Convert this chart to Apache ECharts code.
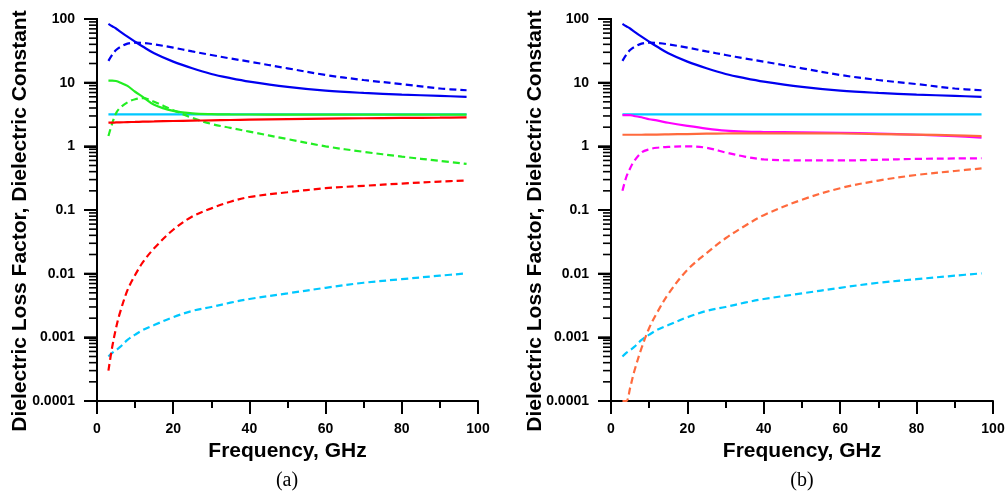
<!DOCTYPE html>
<html>
<head>
<meta charset="utf-8">
<script src="https://cdn.jsdelivr.net/npm/echarts@6/dist/echarts.min.js"></script>
<style>
  html, body { margin: 0; padding: 0; background: #fff; }
  #chart { width: 1008px; height: 491px; }
</style>
</head>
<body>
<div id="chart"></div>
<script>
// Sampling frequencies (GHz) shared by every curve
const freq = [3, 4, 5, 6, 8, 10, 12, 15, 20, 25, 30, 35, 40, 50, 60, 70, 80, 90, 97];

// Water: dielectric constant and loss factor (both panels)
const waterConst = [84, 77, 71, 64, 52.7, 44, 37, 29, 21.4, 16.8, 13.7, 11.8, 10.4, 8.6, 7.5, 6.9, 6.5, 6.2, 6.0];
const waterLoss  = [22, 27.5, 32.6, 36, 41, 42.5, 42, 40, 35.5, 31, 27.2, 24, 21.4, 16.8, 13.2, 11, 9.5, 8.1, 7.6];

// Low-loss reference material (both panels)
const lowConst = [3.18, 3.18, 3.18, 3.18, 3.18, 3.18, 3.18, 3.18, 3.18, 3.18, 3.18, 3.18, 3.18, 3.18, 3.18, 3.18, 3.18, 3.18, 3.18];
const lowLoss  = [0.0005, 0.00057, 0.00063, 0.0007, 0.00091, 0.0011, 0.0013, 0.00156, 0.00207, 0.0026, 0.003, 0.0035, 0.004, 0.0049, 0.006, 0.0072, 0.0082, 0.0093, 0.0101];

// Panel (a): green and red materials
const greenConst = [10.8, 10.8, 10.6, 10.1, 8.9, 7.2, 6.0, 4.5, 3.6, 3.3, 3.2, 3.17, 3.16, 3.15, 3.15, 3.15, 3.15, 3.15, 3.15];
const greenLoss  = [1.45, 2.3, 3.3, 4.0, 4.9, 5.5, 5.7, 5.0, 3.7, 2.8, 2.25, 1.95, 1.7, 1.3, 1.0, 0.82, 0.69, 0.59, 0.53];
const redConst   = [2.35, 2.36, 2.37, 2.38, 2.40, 2.42, 2.44, 2.46, 2.50, 2.53, 2.56, 2.59, 2.62, 2.67, 2.72, 2.76, 2.79, 2.82, 2.85];
const redLoss    = [0.0003, 0.00071, 0.0014, 0.0024, 0.0055, 0.0095, 0.015, 0.025, 0.049, 0.079, 0.106, 0.135, 0.16, 0.19, 0.22, 0.24, 0.26, 0.28, 0.29];

// Panel (b): magenta and orange materials
const magentaConst = [3.1, 3.1, 3.1, 3.0, 2.86, 2.66, 2.55, 2.35, 2.1, 1.9, 1.76, 1.7, 1.68, 1.66, 1.63, 1.59, 1.52, 1.44, 1.37];
const magentaLoss  = [0.2, 0.33, 0.45, 0.58, 0.8, 0.9, 0.95, 0.98, 1.0, 0.95, 0.8, 0.69, 0.625, 0.6, 0.6, 0.615, 0.635, 0.645, 0.65];
const orangeConst  = [1.52, 1.52, 1.52, 1.52, 1.52, 1.53, 1.53, 1.54, 1.56, 1.58, 1.59, 1.6, 1.6, 1.6, 1.59, 1.56, 1.53, 1.49, 1.45];
const orangeLoss   = [0.0001, 0.0001, 0.00016, 0.00028, 0.00068, 0.0014, 0.0024, 0.0048, 0.0115, 0.021, 0.036, 0.056, 0.083, 0.145, 0.22, 0.29, 0.355, 0.41, 0.45];

// Axis tick labels
const yTickLabels = ['0.0001', '0.001', '0.01', '0.1', '1', '10', '100'];
const yDecades = [-4, -3, -2, -1, 0, 1, 2];
const minorSteps = [2, 3, 4, 5, 6, 7, 8, 9];
const panelCaptions = ['(a)', '(b)'];

const SANS = '"Liberation Sans", Arial, sans-serif';
const SERIF = '"Liberation Serif", "Times New Roman", serif';
const COLORS = {
  blue: '#0000F0', green: '#22EE22', cyan: '#00C8FF',
  red: '#FF0000', magenta: '#FF00FF', orange: '#FF6A3D'
};

const pairs = vals => freq.map((f, i) => [f, vals[i]]);

const grids = [
  { left: 97, top: 19, width: 381, height: 382 },
  { left: 611, top: 19, width: 382, height: 382 }
];

function xAxis(gi) {
  return {
    type: 'value', gridIndex: gi, min: 0, max: 100, interval: 20,
    name: 'Frequency, GHz', nameLocation: 'middle', nameGap: 38,
    nameTextStyle: { fontFamily: SANS, fontWeight: 'bold', fontSize: 21, color: '#000' },
    axisLine: { show: true, lineStyle: { color: '#000', width: 2 } },
    axisTick: { show: true, length: 13, lineStyle: { color: '#000', width: 2 } },
    minorTick: { show: true, splitNumber: 2, length: 7, lineStyle: { color: '#000', width: 2 } },
    axisLabel: { margin: 21, fontFamily: SANS, fontWeight: 'bold', fontSize: 14, color: '#000' },
    splitLine: { show: false }
  };
}

function yAxis(gi) {
  return {
    type: 'log', gridIndex: gi, min: 0.0001, max: 100, splitNumber: 6,
    axisLine: { show: true, lineStyle: { color: '#000', width: 2 } },
    axisTick: { show: true, length: 13, lineStyle: { color: '#000', width: 2 } },
    axisLabel: {
      margin: 22, fontFamily: SANS, fontWeight: 'bold', fontSize: 14, color: '#000',
      formatter: v => {
        const e = Math.round(Math.log10(v));
        return yTickLabels[e + 4] !== undefined ? yTickLabels[e + 4] : '';
      }
    },
    splitLine: { show: false }
  };
}

function line(gi, vals, color, dashed) {
  return {
    type: 'line', xAxisIndex: gi, yAxisIndex: gi, data: pairs(vals),
    smooth: 0.35, showSymbol: false,
    lineStyle: { color: color, width: 2.2, type: dashed ? [7, 4] : 'solid' }
  };
}

const series = [
  // panel (a)
  line(0, lowConst, COLORS.cyan, false),
  line(0, lowLoss, COLORS.cyan, true),
  line(0, waterConst, COLORS.blue, false),
  line(0, waterLoss, COLORS.blue, true),
  line(0, greenConst, COLORS.green, false),
  line(0, greenLoss, COLORS.green, true),
  line(0, redConst, COLORS.red, false),
  line(0, redLoss, COLORS.red, true),
  // panel (b)
  line(1, lowConst, COLORS.cyan, false),
  line(1, lowLoss, COLORS.cyan, true),
  line(1, waterConst, COLORS.blue, false),
  line(1, waterLoss, COLORS.blue, true),
  line(1, magentaConst, COLORS.magenta, false),
  line(1, magentaLoss, COLORS.magenta, true),
  line(1, orangeConst, COLORS.orange, false),
  line(1, orangeLoss, COLORS.orange, true)
];

const yName = 'Dielectric Loss Factor, Dielectric Constant';
const textGraphics = [
  { type: 'text', x: 20, y: 221, rotation: Math.PI / 2,
    style: { text: yName, textAlign: 'center', textVerticalAlign: 'middle',
             font: 'bold 21px ' + SANS, fill: '#000' } },
  { type: 'text', x: 535, y: 221, rotation: Math.PI / 2,
    style: { text: yName, textAlign: 'center', textVerticalAlign: 'middle',
             font: 'bold 21px ' + SANS, fill: '#000' } },
  { type: 'text', x: 287, y: 481,
    style: { text: panelCaptions[0], textAlign: 'center', textVerticalAlign: 'middle',
             font: '20px ' + SERIF, fill: '#000' } },
  { type: 'text', x: 802, y: 481,
    style: { text: panelCaptions[1], textAlign: 'center', textVerticalAlign: 'middle',
             font: '20px ' + SERIF, fill: '#000' } }
];

const chart = echarts.init(document.getElementById('chart'));
chart.setOption({
  animation: false,
  grid: grids,
  xAxis: [xAxis(0), xAxis(1)],
  yAxis: [yAxis(0), yAxis(1)],
  series: series,
  graphic: textGraphics
});

// Left-axis spine with decade and 2..9 log ticks, positioned through each grid's scales
const axisMarks = [];
const stroke = (x1, y1, x2, y2, w) => axisMarks.push({
  type: 'line', z: 100, silent: true,
  shape: { x1: x1, y1: y1, x2: x2, y2: y2 },
  style: { stroke: '#000', lineWidth: w }
});
[0, 1].forEach(gi => {
  const toPx = v => chart.convertToPixel({ gridIndex: gi }, [0, v]);
  const top = toPx(100), bottom = toPx(0.0001);
  stroke(top[0], top[1] - 1, bottom[0], bottom[1] + 1, 2);
  yDecades.forEach(d => {
    const p = toPx(Math.pow(10, d));
    stroke(p[0] - 13, p[1], p[0], p[1], 2);
    if (d < 2) {
      minorSteps.forEach(m => {
        const q = toPx(m * Math.pow(10, d));
        stroke(q[0] - 8, q[1], q[0], q[1], 1.6);
      });
    }
  });
});
chart.setOption({ graphic: textGraphics.concat(axisMarks) });
</script>
</body>
</html>
